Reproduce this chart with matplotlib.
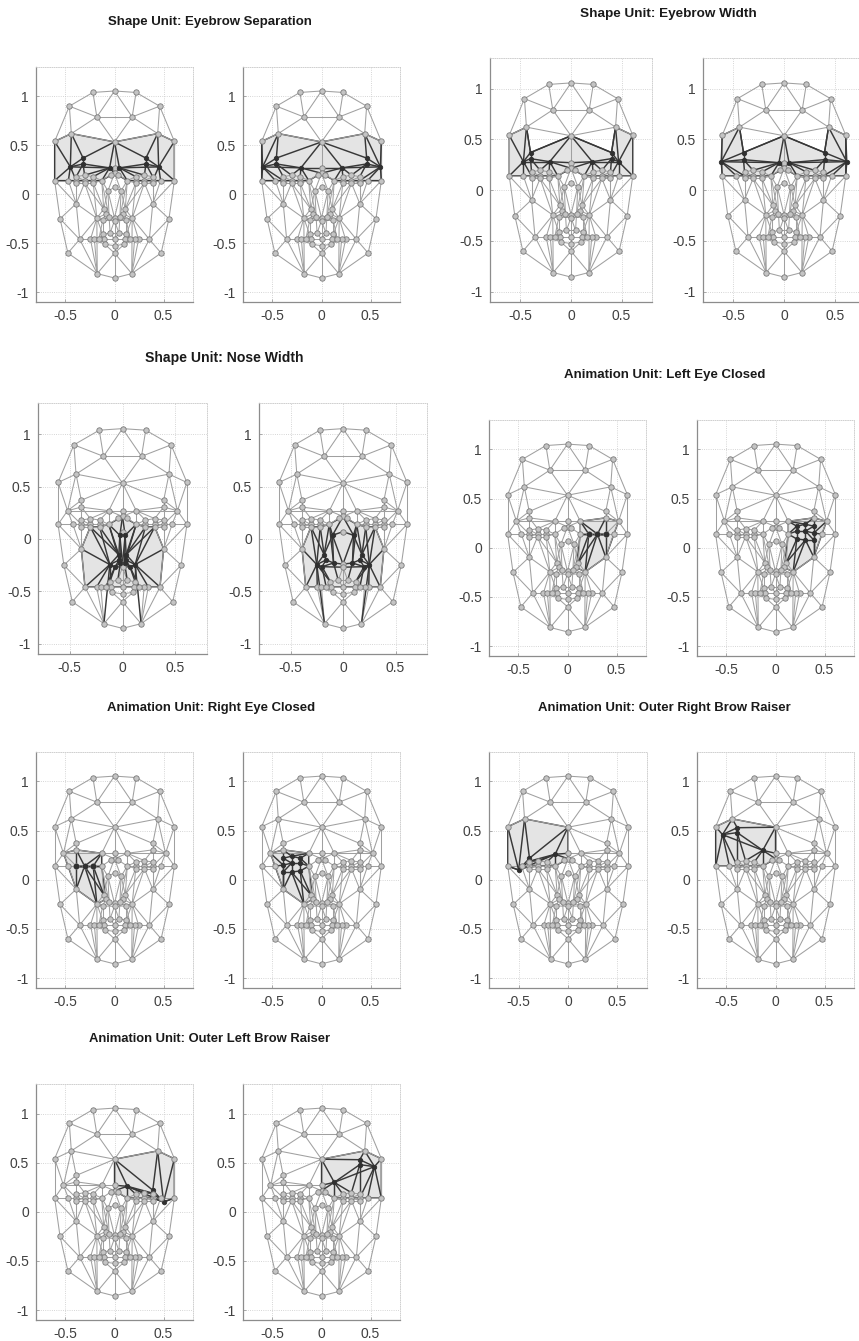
import matplotlib
matplotlib.use("Agg")
import matplotlib.pyplot as plt
from matplotlib.patches import Polygon

FIG_W, FIG_H = 859, 1341
plt.rcParams['font.family'] = ['Liberation Sans', 'DejaVu Sans']

# ---- mesh: centre-line vertices
centre_names = ['c0','c1','c2','c3','c4','c5','c6','c7','c8','c9','c10']
centre_y = [1.055,0.535,0.27,0.215,0.07,-0.24,-0.27,-0.46,-0.525,-0.60,-0.855]

# ---- mesh: vertices of one side (mirrored for the other)
side_names = ['1','2','3','4','5','6','7','8','9','10','11','12','13','14','15','16','17','18','19','20',
              '21','22','23','24','25','26','27','28','29','30','31','32','33','34','35','36','37','38','39','40']
side_x = [0.22,0.46,0.18,0.44,0.61,0.39,0.39,0.52,0.13,0.04,0.61,0.47,0.39,0.305,0.217,0.13,0.39,0.305,0.217,0.39,
          0.305,0.217,0.067,0.39,0.11,0.09,0.18,0.12,0.055,0.555,0.355,0.245,0.205,0.12,0.045,0.11,0.10,0.475,0.176,0.16]
side_y = [1.04,0.90,0.79,0.62,0.54,0.37,0.305,0.27,0.27,0.20,0.14,0.14,0.14,0.14,0.14,0.14,0.18,0.195,0.18,0.115,
          0.115,0.115,0.035,-0.095,-0.15,-0.20,-0.245,-0.265,-0.23,-0.25,-0.46,-0.46,-0.46,-0.41,-0.395,-0.46,-0.51,-0.60,-0.81,-0.46]

# ---- mesh: edges, written for the 'r' side and mirrored
side_edges = ("c0-r1 r1-r2 r2-r5 r5-r11 r11-r30 r30-r38 r38-r39 r39-c10 c0-r3 r1-r3 r2-r3 r2-r4 r3-r4 r3-c1 r4-c1 "
    "r4-r5 r4-r8 r4-r6 r6-r7 r5-r8 r6-c1 r7-r8 r6-r8 r7-r9 r8-r9 r9-c1 r9-c2 c1-c2 r8-r11 r8-r12 r8-r13 r7-r17 "
    "r7-r18 r9-r18 r9-r19 r9-r16 r9-c3 c2-c3 c3-r10 r11-r12 r12-r13 r13-r14 r14-r15 r15-r16 r13-r17 r17-r18 r18-r19 "
    "r19-r16 r13-r20 r20-r21 r21-r22 r22-r16 r14-r18 r14-r21 r15-r19 r15-r22 r14-r17 r14-r20 r16-r10 r11-r24 r12-r24 "
    "r13-r24 r20-r24 r21-r24 r30-r24 r24-r27 r24-r31 r30-r31 r31-r38 r31-r39 r21-r25 r22-r25 r16-r25 r22-r27 r16-r23 "
    "r16-r29 c3-r23 r23-c4 r23-r29 r23-r25 r23-c5 r25-r26 r25-r27 r26-r27 r26-r28 r26-r29 r27-r28 r28-r29 r29-c5 c5-c6 "
    "r28-c6 r21-r27 r27-r31 r27-r32 r27-r39 r28-r34 r27-r34 r34-r35 r35-c7 r34-r36 r31-r32 r32-r33 r33-r40 r40-r36 r36-c7 "
    "r33-r37 r36-r37 r37-c8 c7-c8 c8-c9 r37-c9 r38-r39 c9-r39 c9-c10 r33-r39 r32-r39 r34-r40 r35-c6 c6-c7 r28-r40 r29-r35")
cross_edges = "r3-l3 r35-l35 r10-l10 r9-c2 c4-r23"

# ---- panel titles with their centre pixel, row and text size
titles = ['Shape Unit: Eyebrow Separation','Shape Unit: Eyebrow Width','Shape Unit: Nose Width',
          'Animation Unit: Left Eye Closed','Animation Unit: Right Eye Closed',
          'Animation Unit: Outer Right Brow Raiser','Animation Unit: Outer Left Brow Raiser']
title_x = [210,668,224,665,211,664,210]
title_y = [22,14,358,375,708,708,1039]
title_size = [9.5,9.7,10.1,9.5,9.45,9.45,9.4]

# ---- axes rectangles in pixels: left, right, top, bottom
rects = [(36,193,67,302),(243,400,67,302),(490,652,58,302),(703,865,58,302),
         (38,207,403,654),(259,427,403,654),(489,646,420,656),(697,854,420,656),
         (36,193,752,988),(243,400,752,988),(489,647,752,988),(697,854,752,988),
         (36,193,1084,1320),(243,400,1084,1320)]

xticks = [-0.5,0,0.5]
yticks = [-1,-0.5,0,0.5,1]
ylabels = ['-1','-0.5','0','0.5','1']
xlabels = ['-0.5','0','0.5']

# ---- moved vertices per unit (r side values, mirrored where both sides move)
sep_a = {'6':(0.32,0.37),'7':(0.32,0.31),'8':(0.45,0.28),'9':(0.05,0.27)}
sep_b = {'6':(0.46,0.37),'7':(0.46,0.31),'8':(0.60,0.28),'9':(0.21,0.27)}
wid_a = {'6':(0.40,0.37),'7':(0.40,0.31),'8':(0.47,0.28),'9':(0.21,0.28)}
wid_b = {'6':(0.40,0.37),'7':(0.40,0.30),'8':(0.62,0.28),'9':(0.05,0.27)}
nose_a = {'25':(0.035,-0.15),'26':(0.03,-0.20),'27':(0.12,-0.245),'28':(0.07,-0.265),'29':(0.02,-0.23),'23':(0.025,0.035)}
nose_b = {'25':(0.18,-0.15),'26':(0.16,-0.20),'27':(0.25,-0.245),'28':(0.20,-0.265),'29':(0.09,-0.23),'23':(0.10,0.035)}
eye_a = {'17':(0.39,0.14),'18':(0.305,0.14),'19':(0.217,0.14),'20':(0.39,0.14),'21':(0.305,0.14),'22':(0.217,0.14)}
eye_b = {'14':(0.305,0.17),'15':(0.217,0.17),'17':(0.39,0.22),'18':(0.305,0.24),'19':(0.217,0.22),
         '20':(0.39,0.08),'21':(0.305,0.08),'22':(0.217,0.09),'13':(0.39,0.15)}
brow_a = {'6':(0.39,0.22),'7':(0.39,0.19),'8':(0.50,0.10),'9':(0.13,0.26)}
brow_b = {'6':(0.39,0.53),'7':(0.39,0.48),'8':(0.54,0.46),'9':(0.13,0.30)}

# ---- highlighted outlines
poly_sep = 'l5 l4 c1 r4 r5 r11 r16 c3 l16 l11'
poly_wid = 'l5 l4 l6 c1 r6 r4 r5 r11 r16 c3 l16 l11'
poly_nose = 'r21 r24 r31 l31 l24 l21 l22 l16 c3 r16 r22'
poly_eye_l = 'r9 r7 r8 r24 r27 r26 r16'
poly_brow_r = 'l5 l4 c1 c2 c3 l16 l13 l8 l11'
poly_brow_r2 = 'l5 l4 c1 c2 c3 l16 l13 l12 l11'

GRAY_LINE = '#a0a0a0'
DARK_LINE = '#383838'
FILL = '#e4e4e4'
GRID = '#c8c8c8'
SPINE = '#8c8c8c'
TEXT = '#404040'


def mirrored(spec):
    return spec.replace('l', '#').replace('r', 'l').replace('#', 'r')


def base_nodes():
    nodes = {}
    for n, y in zip(centre_names, centre_y):
        nodes[n] = (0.0, y)
    for n, x, y in zip(side_names, side_x, side_y):
        nodes['r' + n] = (x, y)
        nodes['l' + n] = (-x, y)
    return nodes


def all_edges():
    out = set()
    for e in side_edges.split():
        a, b = e.split('-')
        out.add(tuple(sorted((a, b))))
        ma, mb = (mirrored(a), mirrored(b))
        out.add(tuple(sorted((ma, mb))))
    for e in cross_edges.split():
        a, b = e.split('-')
        out.add(tuple(sorted((a, b))))
    return sorted(out)


EDGES = all_edges()
fig = plt.figure(figsize=(FIG_W / 100, FIG_H / 100), dpi=100, facecolor='white')


def make_axes(rect):
    l, r, t, b = rect
    ax = fig.add_axes([l / FIG_W, 1 - b / FIG_H, (r - l) / FIG_W, (b - t) / FIG_H])
    ax.set_xlim(-0.8, 0.8)
    ax.set_ylim(-1.1, 1.3)
    ax.set_xticks(xticks, xlabels)
    ax.set_yticks(yticks, ylabels)
    ax.tick_params(direction='in', length=2, width=0.5, color=SPINE, labelsize=10,
                   labelcolor=TEXT, pad=5)
    ax.grid(True, ls=':', lw=0.6, color=GRID)
    ax.set_axisbelow(True)
    for s in ('left', 'bottom'):
        ax.spines[s].set_color(SPINE)
        ax.spines[s].set_linewidth(0.9)
    for s in ('top', 'right'):
        ax.spines[s].set_color(GRID)
        ax.spines[s].set_linewidth(0.6)
        ax.spines[s].set_linestyle(':')
    return ax


def draw_face(rect, moved_r, moved_l, poly):
    ax = make_axes(rect)
    nodes = base_nodes()
    moved = set()
    for k, (x, y) in moved_r.items():
        nodes['r' + k] = (x, y)
        moved.add('r' + k)
    for k, (x, y) in moved_l.items():
        nodes['l' + k] = (-x, y)
        moved.add('l' + k)
    names = poly.split()
    pts = [nodes[n] for n in names]
    ax.add_patch(Polygon(pts, closed=True, facecolor=FILL, edgecolor=DARK_LINE, lw=1.0, zorder=2))
    for a, b in EDGES:
        hot = a in moved or b in moved
        ax.plot([nodes[a][0], nodes[b][0]], [nodes[a][1], nodes[b][1]],
                color=DARK_LINE if hot else GRAY_LINE, lw=1.05 if hot else 0.75,
                zorder=4 if hot else 3, solid_capstyle='round')
    for n, (x, y) in nodes.items():
        hot = n in moved
        ax.plot([x], [y], 'o', ms=3.2 if hot else 3.9, mfc='#303030' if hot else '#c4c4c4',
                mec='#303030' if hot else '#7a7a7a', mew=0.6, zorder=5)
    return ax


configs = [
    (sep_a, sep_a, poly_sep), (sep_b, sep_b, poly_sep),
    (wid_a, wid_a, poly_wid), (wid_b, wid_b, poly_wid),
    (nose_a, nose_a, poly_nose), (nose_b, nose_b, poly_nose),
    (eye_a, {}, poly_eye_l), (eye_b, {}, poly_eye_l),
    ({}, eye_a, mirrored(poly_eye_l)), ({}, eye_b, mirrored(poly_eye_l)),
    ({}, brow_a, poly_brow_r), ({}, brow_b, poly_brow_r2),
    (brow_a, {}, mirrored(poly_brow_r)), (brow_b, {}, mirrored(poly_brow_r2)),
]
for rect, (mr, ml, poly) in zip(rects, configs):
    draw_face(rect, mr, ml, poly)

for t, x, y, s in zip(titles, title_x, title_y, title_size):
    fig.text(x / FIG_W, 1 - y / FIG_H, t, ha='center', va='center', fontsize=s,
             fontweight='bold', color='#1a1a1a')

fig.savefig('out.png', dpi=100)
